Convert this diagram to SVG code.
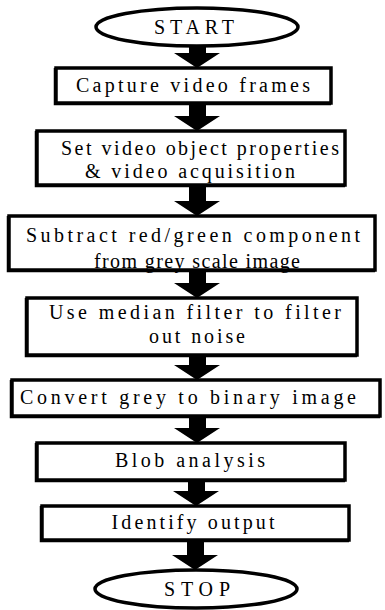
<svg xmlns="http://www.w3.org/2000/svg" width="385" height="610" viewBox="0 0 385 610">
<defs>
<style>
.node{fill:#fff;stroke:#000;stroke-width:3.5}
.sh{fill:none;stroke:#000;stroke-width:2.5}
.t{font-family:"Liberation Serif","Times New Roman",serif;font-size:20px;fill:#000;text-anchor:middle}
.arr{fill:#000;stroke:none}
</style>
</defs>
<rect width="385" height="610" fill="#fff"/>
<g id="start">
<ellipse class="node" cx="197" cy="27" rx="101" ry="19" stroke-width="4"/>
<text class="t" x="194" y="34" textLength="80" lengthAdjust="spacing">START</text>
</g>
<g id="n1">
<rect class="node" x="56" y="68" width="275" height="35"/>
<polyline class="sh" points="55,68 55,104 331,104"/>
<text class="t" x="193" y="92" textLength="234" lengthAdjust="spacing">Capture video  frames</text>
</g>
<g id="n2">
<rect class="node" x="37" y="131" width="308" height="54"/>
<polyline class="sh" points="36,131 36,186 345,186"/>
<text class="t" x="200" y="155" textLength="278" lengthAdjust="spacing">Set video object properties</text>
<text class="t" x="190" y="178" textLength="210" lengthAdjust="spacing">&amp; video acquisition</text>
</g>
<g id="n3">
<rect class="node" x="9" y="216" width="366" height="54"/>
<polyline class="sh" points="8,216 8,271 375,271"/>
<text class="t" x="193" y="242" textLength="334" lengthAdjust="spacing">Subtract red/green component</text>
<text class="t" x="197" y="268" textLength="206" lengthAdjust="spacing">from grey scale image</text>
</g>
<g id="n4">
<rect class="node" x="27" y="298" width="330" height="57"/>
<polyline class="sh" points="26,298 26,356 357,356"/>
<text class="t" x="195" y="319" textLength="292" lengthAdjust="spacing">Use median filter to filter</text>
<text class="t" x="197" y="343" textLength="96" lengthAdjust="spacing">out noise</text>
</g>
<g id="n5">
<rect class="node" x="12" y="380" width="368" height="36"/>
<polyline class="sh" points="11,380 11,417 380,417"/>
<text class="t" x="188" y="404" textLength="336" lengthAdjust="spacing">Convert grey to binary image</text>
</g>
<g id="n6">
<rect class="node" x="37" y="443" width="308" height="37"/>
<polyline class="sh" points="36,443 36,481 345,481"/>
<text class="t" x="190" y="467" textLength="150" lengthAdjust="spacing">Blob analysis</text>
</g>
<g id="n7">
<rect class="node" x="42" y="506" width="307" height="34"/>
<polyline class="sh" points="41,506 41,541 349,541"/>
<text class="t" x="193" y="529" textLength="163" lengthAdjust="spacing">Identify output</text>
</g>
<g id="stop">
<ellipse class="node" cx="196" cy="589" rx="101" ry="19" stroke-width="4"/>
<text class="t" x="197" y="596" textLength="66" lengthAdjust="spacing">STOP</text>
</g>
<g id="connectors" class="arr">
<path d="M189,46 H206 V53 H220 L197,68 L174,53 H189 Z"/>
<path d="M189,103 H206 V116 H220 L197,131 L174,116 H189 Z"/>
<path d="M189,185 H206 V201 H220 L197,216 L174,201 H189 Z"/>
<path d="M189,270 H206 V283 H220 L197,298 L174,283 H189 Z"/>
<path d="M189,355 H206 V365 H220 L197,380 L174,365 H189 Z"/>
<path d="M189,416 H206 V428 H220 L197,443 L174,428 H189 Z"/>
<path d="M188,480 H205 V491 H219 L196,506 L173,491 H188 Z"/>
<path d="M187,540 H204 V555 H218 L195,570 L172,555 H187 Z"/>
</g>
</svg>
